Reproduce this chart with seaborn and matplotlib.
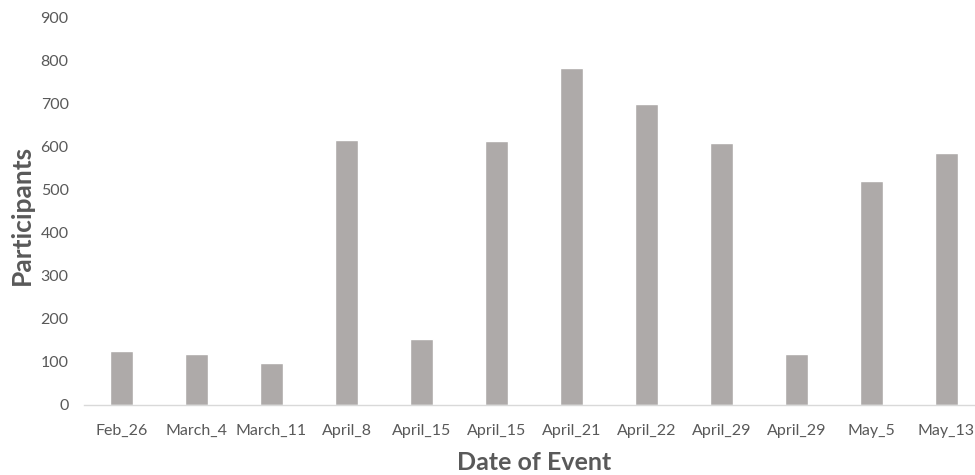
import matplotlib
matplotlib.use("Agg")
import matplotlib.pyplot as plt
import seaborn as sns
import pandas as pd

# datos
fechas = ["Feb_26", "March_4", "March_11", "April_8", "April_15", "April_15",
          "April_21", "April_22", "April_29", "April_29", "May_5", "May_13"]
participantes = [124, 117, 97, 614, 151, 611, 781, 699, 608, 117, 519, 583]

sns.set_style("white")
plt.rcParams["font.family"] = ["Lato", "DejaVu Sans"]

# hay fechas repetidas, asi que se usa la posicion como categoria
df = pd.DataFrame({"pos": range(len(fechas)), "fecha": fechas, "n": participantes})

fig = plt.figure(figsize=(9.75, 4.75), dpi=100)
ax = fig.add_axes([84 / 975, 70.5 / 475, 891 / 975, 387.5 / 475])

sns.barplot(data=df, x="pos", y="n", color="#AEAAA9", saturation=1,
            width=0.31, ax=ax)

ax.set_ylim(0, 900)
ax.set_yticks(range(0, 901, 100))
ax.set_xlim(-0.5, 11.38)
ax.set_xticks(df["pos"])
ax.set_xticklabels(df["fecha"])

for s in ["top", "right", "left"]:
    ax.spines[s].set_visible(False)
ax.spines["bottom"].set_color("#D9D9D9")
ax.spines["bottom"].set_linewidth(1)

ax.tick_params(axis="both", length=0, labelsize=11.5, colors="#595959")
ax.tick_params(axis="x", pad=14)
ax.tick_params(axis="y", pad=11)

ax.set_xlabel("Date of Event", fontsize=18, fontweight="bold", color="#595959")
ax.set_ylabel("Participants", fontsize=19, fontweight="bold", color="#595959")
ax.xaxis.label.set_va("center")
ax.yaxis.label.set_va("center")
ax.xaxis.set_label_coords((534 - 84) / 891, -(462 - 404.5) / 387.5)
ax.yaxis.set_label_coords(-(84 - 22) / 891, 0.49)

fig.savefig("out.png", dpi=100)
